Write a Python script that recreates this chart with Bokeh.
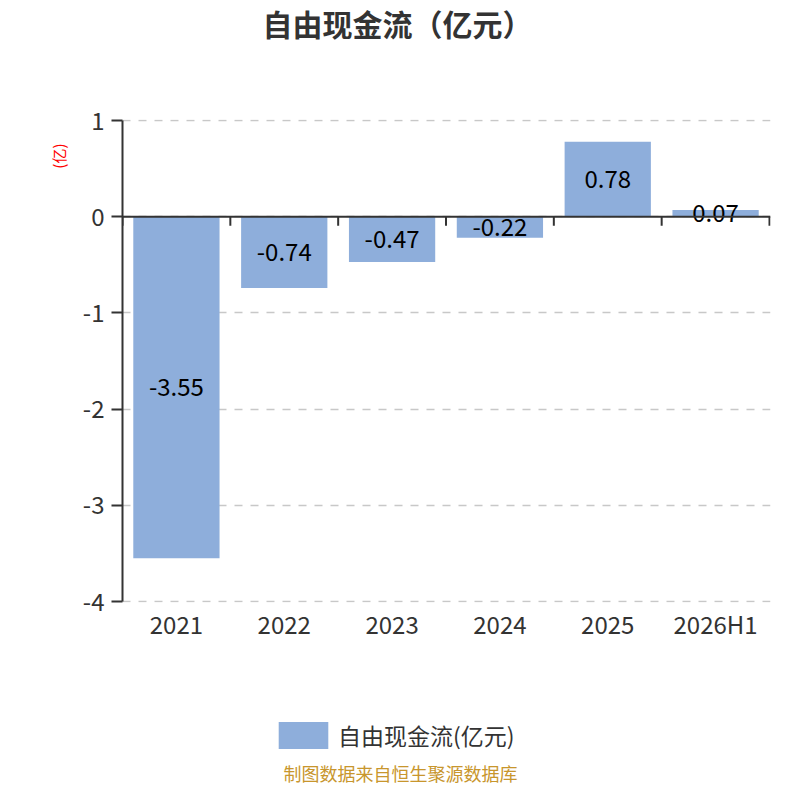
from bokeh.plotting import figure
from bokeh.models import (Range1d, FixedTicker, Span, Legend, LegendItem, Label,
                          ColumnDataSource, LinearAxis, Title)
from bokeh.layouts import column
from bokeh.core.properties import value
from bokeh.embed import file_html
from bokeh.resources import INLINE

categories = ["2021", "2022", "2023", "2024", "2025", "2026H1"]
values = [-3.55, -0.74, -0.47, -0.22, 0.78, 0.07]
labels = ["-3.55", "-0.74", "-0.47", "-0.22", "0.78", "0.07"]
y_ticks = [-4, -3, -2, -1, 0, 1]
y_tick_labels = ["-4", "-3", "-2", "-1", "0", "1"]

title_text = "自由现金流（亿元）"
series_name = "自由现金流(亿元)"
unit_text = "(亿)"
footer_text = "制图数据来自恒生聚源数据库"

FONT = "Noto Sans CJK SC"
BAR_COLOR = "#8eaedb"
AXIS_COLOR = "#333333"

n = len(categories)
xs = [i + 0.5 for i in range(n)]

ppx = 647 / n        # px per category
ppy = 481 / 5        # px per y unit
ymin, ymax = min(y_ticks), max(y_ticks)

W = 784
LEFT, RIGHT = 122, 14
H0, H1, H2 = 100, 560, 124   # title strip, chart, legend/footer strip

# ---------------- title strip ----------------
p0 = figure(width=W, height=H0, output_backend="svg", toolbar_location=None,
            x_range=Range1d(LEFT, W - RIGHT), y_range=Range1d(0, H0),
            min_border_left=LEFT, min_border_right=RIGHT, min_border_top=0,
            min_border_bottom=0, x_axis_location=None, y_axis_location=None)
p0.outline_line_color = None
p0.grid.visible = False
p0.add_layout(Label(x=397, y=H0 - 22, text=title_text, text_align="center",
                    text_baseline="middle", text_font=FONT, text_font_size="30px",
                    text_font_style="bold", text_color=AXIS_COLOR))

# ---------------- main chart ----------------
p = figure(width=W, height=H1, output_backend="svg", toolbar_location=None,
           x_range=Range1d(0, n + 1 / ppx),
           y_range=Range1d(ymin - 1 / ppy, ymax + 1 / ppy),
           min_border_left=LEFT, min_border_right=RIGHT, min_border_top=19,
           min_border_bottom=58, x_axis_location=None, y_axis_location=None)
p.outline_line_color = None

src = ColumnDataSource(dict(x=xs, top=values, lab=labels,
                            ly=[v / 2 for v in values]))
bars = p.vbar(x="x", top="top", bottom=0, width=0.8, source=src,
              fill_color=BAR_COLOR, line_color=None)

p.xgrid.visible = False
p.ygrid.ticker = FixedTicker(ticks=y_ticks)
p.ygrid.grid_line_color = "#c8c8c8"
p.ygrid.grid_line_dash = "8 8"
p.ygrid.grid_line_width = 1.5

yax = LinearAxis(ticker=FixedTicker(ticks=y_ticks), bounds=(ymin, ymax),
                 major_label_overrides={t: s for t, s in zip(y_ticks, y_tick_labels)})
yax.axis_line_color = AXIS_COLOR
yax.axis_line_width = 2
yax.major_tick_line_color = AXIS_COLOR
yax.major_tick_line_width = 2
yax.major_tick_out = 11
yax.major_tick_in = 0
yax.minor_tick_line_color = None
yax.major_label_text_font = FONT
yax.major_label_text_font_size = "24px"
yax.major_label_text_color = AXIS_COLOR
yax.major_label_standoff = 7
p.add_layout(yax, "left")

# unit label, rotated, near the top of the y axis
p.add_layout(Title(text=unit_text, align="right", offset=24, standoff=22,
                   text_font=FONT, text_font_size="15px", text_font_style="normal",
                   text_color="#ff0000"), "left")

xax = LinearAxis(ticker=FixedTicker(ticks=xs),
                 major_label_overrides={x: c for x, c in zip(xs, categories)})
xax.axis_line_color = None
xax.major_tick_line_color = None
xax.minor_tick_line_color = None
xax.major_label_text_font = FONT
xax.major_label_text_font_size = "24px"
xax.major_label_text_color = AXIS_COLOR
xax.major_label_standoff = -3
p.add_layout(xax, "below")

p.add_layout(Span(location=0, dimension="width", line_color=AXIS_COLOR, line_width=2))
bx = list(range(n + 1))
p.segment(x0=bx, x1=bx, y0=[0] * (n + 1), y1=[-9 / ppy] * (n + 1),
          line_color=AXIS_COLOR, line_width=2)

p.text(x="x", y="ly", text="lab", source=src, text_align="center",
       text_baseline="middle", text_font=value(FONT), text_font_size="24px",
       text_color="#000000")

# ---------------- legend + footer strip ----------------
p2 = figure(width=W, height=H2, output_backend="svg", toolbar_location=None,
            x_range=Range1d(LEFT, W - RIGHT), y_range=Range1d(1000, 1000 + H2),
            min_border_left=LEFT, min_border_right=RIGHT, min_border_top=0,
            min_border_bottom=0, x_axis_location=None, y_axis_location=None)
p2.outline_line_color = None
p2.grid.visible = False
key = p2.vbar(x="x", top="top", bottom=0, width=0.8, source=src,
              fill_color=BAR_COLOR, line_color=None)

legend = Legend(items=[LegendItem(label=series_name, renderers=[key])],
                location=(150, 32), orientation="horizontal")
legend.glyph_width = 62
legend.glyph_height = 34
legend.label_standoff = 4
legend.padding = 0
legend.margin = 0
legend.border_line_color = None
legend.background_fill_alpha = 0
legend.label_text_font = FONT
legend.label_text_font_size = "23px"
legend.label_text_color = AXIS_COLOR
p2.add_layout(legend, "center")

p2.add_layout(Label(x=400, y=1000 + 12, text=footer_text,
                    text_align="center", text_baseline="middle", text_font=FONT,
                    text_font_size="18px", text_color="#c8962d"))

layout = column(p0, p, p2, spacing=0)
open("out.html", "w").write(file_html(layout, INLINE))
